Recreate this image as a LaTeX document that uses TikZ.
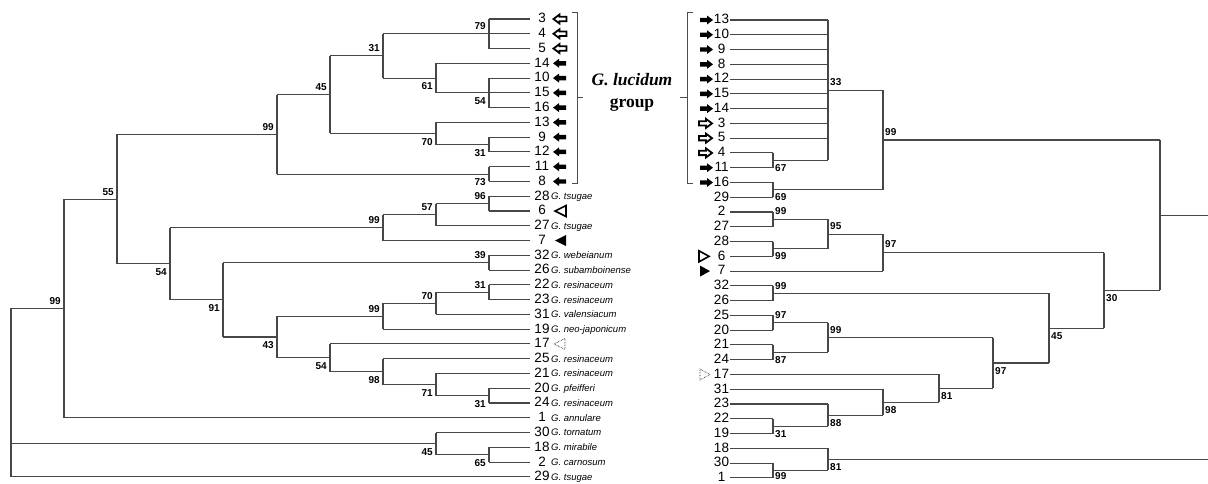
\documentclass[tikz,border=0pt]{standalone}
\usepackage{fontspec}
\setmainfont{Liberation Sans}
\newfontfamily\timesfont{Liberation Serif}
\tikzset{
  br/.style={draw=black!72, line width=1.1pt},
  brk/.style={draw=black!70, line width=0.8pt},
  tip/.style={font=\fontsize{13.5}{14}\selectfont, inner sep=0pt, yshift=0.8pt},
  sp/.style={font=\fontsize{9.5}{10}\selectfont\itshape, inner sep=0pt, anchor=base west},
  bl/.style={font=\fontsize{10}{10}\selectfont\bfseries, inner sep=0pt, anchor=east},
  bri/.style={font=\fontsize{10}{10}\selectfont\bfseries, inner sep=0pt, anchor=west},
  larr/.pic={\path[pic actions] (0pt,0pt) -- (6pt,4.5pt) -- (6pt,2.2pt) -- (13pt,2.2pt)
    -- (13pt,-2.2pt) -- (6pt,-2.2pt) -- (6pt,-4.5pt) -- cycle;},
  rarr/.pic={\path[pic actions] (0pt,0pt) -- (-6pt,4.5pt) -- (-6pt,2.2pt) -- (-13pt,2.2pt)
    -- (-13pt,-2.2pt) -- (-6pt,-2.2pt) -- (-6pt,-4.5pt) -- cycle;},
  ltri/.pic={\path[pic actions] (0pt,0pt) -- (11pt,5.5pt) -- (11pt,-5.5pt) -- cycle;},
  rtri/.pic={\path[pic actions] (0pt,0pt) -- (-10pt,5.5pt) -- (-10pt,-5.5pt) -- cycle;}
}
\begin{document}
\begin{tikzpicture}[x=1pt, y=-14.77pt]
  \useasboundingbox[fill=white] (0,-1.287) rectangle (1208,31.415);

  % left tree
  \foreach \t/\px [count=\i from 0] in {3/489,4/383,5/489,14/436,10/489,15/436,16/489,13/436,
      9/489,12/489,11/489,8/489,28/489,6/489,27/436,7/383,32/489,26/489,22/489,23/489,31/436,
      19/383,17/330,25/383,21/436,20/489,24/489,1/64,30/436,18/489,2/489,29/11}
  {
    \draw[br] (\px,\i) -- (530,\i);
    \node[tip] (l\t) at (542,\i) {\t};
  }
  \draw[br] (489,0) -- (489,2);
  \draw[br] (489,4) -- (489,6);
  \draw[br] (436,3) -- (436,5) (383,4) -- (436,4);
  \draw[br] (383,1) -- (383,4) (330,2.5) -- (383,2.5);
  \draw[br] (489,8) -- (489,9) (436,8.5) -- (489,8.5);
  \draw[br] (436,7) -- (436,8.5) (330,7.75) -- (436,7.75);
  \draw[br] (330,2.5) -- (330,7.75) (277,5.125) -- (330,5.125);
  \draw[br] (489,10) -- (489,11) (277,10.5) -- (489,10.5);
  \draw[br] (277,5.125) -- (277,10.5) (117,7.8125) -- (277,7.8125);
  \draw[br] (489,12) -- (489,13) (436,12.5) -- (489,12.5);
  \draw[br] (436,12.5) -- (436,14) (383,13.25) -- (436,13.25);
  \draw[br] (383,13.25) -- (383,15) (170,14.125) -- (383,14.125);
  \draw[br] (489,16) -- (489,17) (223,16.5) -- (489,16.5);
  \draw[br] (489,18) -- (489,19) (436,18.5) -- (489,18.5);
  \draw[br] (436,18.5) -- (436,20) (383,19.25) -- (436,19.25);
  \draw[br] (383,19.25) -- (383,21) (277,20.125) -- (383,20.125);
  \draw[br] (489,25) -- (489,26) (436,25.5) -- (489,25.5);
  \draw[br] (436,24) -- (436,25.5) (383,24.75) -- (436,24.75);
  \draw[br] (383,23) -- (383,24.75) (330,23.875) -- (383,23.875);
  \draw[br] (330,22) -- (330,23.875) (277,22.9375) -- (330,22.9375);
  \draw[br] (277,20.125) -- (277,22.9375) (223,21.531) -- (277,21.531);
  \draw[br] (223,16.5) -- (223,21.531) (170,19.016) -- (223,19.016);
  \draw[br] (170,14.125) -- (170,19.016) (117,16.570) -- (170,16.570);
  \draw[br] (117,7.8125) -- (117,16.570) (64,12.191) -- (117,12.191);
  \draw[br] (64,12.191) -- (64,27) (11,19.596) -- (64,19.596);
  \draw[br] (489,29) -- (489,30) (436,29.5) -- (489,29.5);
  \draw[br] (436,28) -- (436,29.5) (11,28.75) -- (436,28.75);
  \draw[br] (11,19.596) -- (11,31);

  \node[bl] (b79) at (486,0.5) {79};
  \node[bl] (b31a) at (380,2) {31};
  \node[bl] (b61) at (433,4.55) {61};
  \node[bl] (b54a) at (486,5.55) {54};
  \node[bl] (b45a) at (327,4.63) {45};
  \node[bl] (b70a) at (433,8.3) {70};
  \node[bl] (b31b) at (486,9.05) {31};
  \node[bl] (b99a) at (274,7.31) {99};
  \node[bl] (b73) at (486,11.05) {73};
  \node[bl] (b55) at (114,11.69) {55};
  \node[bl] (b96) at (486,12) {96};
  \node[bl] (b57) at (433,12.75) {57};
  \node[bl] (b99b) at (380,13.62) {99};
  \node[bl] (b39) at (486,16) {39};
  \node[bl] (b54c) at (167,17.12) {54};
  \node[bl] (b31c) at (486,18) {31};
  \node[bl] (b70b) at (433,18.75) {70};
  \node[bl] (b99d) at (61,19.1) {99};
  \node[bl] (b91) at (220,19.57) {91};
  \node[bl] (b99c) at (380,19.62) {99};
  \node[bl] (b43) at (274,22.08) {43};
  \node[bl] (b54b) at (327,23.49) {54};
  \node[bl] (b98) at (380,24.42) {98};
  \node[bl] (b71) at (433,25.3) {71};
  \node[bl] (b31d) at (486,26.05) {31};
  \node[bl] (b45b) at (433,29.3) {45};
  \node[bl] (b65) at (486,30.05) {65};

  \foreach \t/\r/\s in {28/12/tsugae,27/14/tsugae,32/16/webeianum,26/17/subamboinense,
      22/18/resinaceum,23/19/resinaceum,31/20/valensiacum,19/21/neo-japonicum,
      25/23/resinaceum,21/24/resinaceum,20/25/pfeifferi,24/26/resinaceum,1/27/annulare,
      30/28/tornatum,18/29/mirabile,2/30/carnosum,29/31/tsugae}
    \node[sp] (s\t) at (551,\r+0.23) {G. \s};

  \foreach \r in {0,1,2}
    \pic[draw=black, fill=white, line width=1.8pt] at (553.5,\r) {larr};
  \foreach \r in {3,...,11}
    \pic[fill=black] at (553,\r) {larr};
  \pic[draw=black, line width=1.6pt] at (555,13) {ltri};
  \pic[fill=black] at (555,15) {ltri};
  \pic[draw=black, line width=0.6pt, densely dotted] at (554,22) {ltri};

  % brackets and group name
  \draw[brk] (572,-0.47) -- (577,-0.47) -- (577,11.1) -- (572,11.1) (577,5.28) -- (583,5.28);
  \draw[brk] (693,-0.47) -- (687,-0.47) -- (687,11.1) -- (693,11.1) (687,5.28) -- (680,5.28);
  \node[font=\timesfont\fontsize{17.5}{18}\selectfont\bfseries\itshape, anchor=base, inner sep=0pt]
    (grp) at (632,4.47) {G. lucidum};
  \node[font=\timesfont\fontsize{17.5}{18}\selectfont\bfseries, anchor=base, inner sep=0pt]
    (grpb) at (632,5.96) {group};

  % right tree
  \begin{scope}[yshift=-1pt]
  \foreach \t/\px [count=\i from 0] in {13/828,10/828,9/828,8/828,12/828,15/828,14/828,3/828,
      5/828,4/773,11/773,16/773,29/773,2/773,27/773,28/773,6/773,7/883,32/773,26/773,25/773,
      20/773,21/773,24/773,17/939,31/883,23/828,22/773,19/773,18/828,30/773,1/773}
  {
    \draw[br] (730,\i) -- (\px,\i);
    \node[tip] (r\t) at (721.5,\i) {\t};
  }
  \draw[br] (773,9) -- (773,10) (773,9.5) -- (828,9.5);
  \draw[br] (828,0) -- (828,9.5) (828,4.75) -- (883,4.75);
  \draw[br] (773,11) -- (773,12) (773,11.5) -- (883,11.5);
  \draw[br] (883,4.75) -- (883,11.5) (883,8.125) -- (1160,8.125);
  \draw[br] (773,13) -- (773,14) (773,13.5) -- (828,13.5);
  \draw[br] (773,15) -- (773,16) (773,15.5) -- (828,15.5);
  \draw[br] (828,13.5) -- (828,15.5) (828,14.5) -- (883,14.5);
  \draw[br] (883,14.5) -- (883,17) (883,15.75) -- (1104,15.75);
  \draw[br] (773,18) -- (773,19) (773,18.5) -- (1049,18.5);
  \draw[br] (773,20) -- (773,21) (773,20.5) -- (828,20.5);
  \draw[br] (773,22) -- (773,23) (773,22.5) -- (828,22.5);
  \draw[br] (828,20.5) -- (828,22.5) (828,21.5) -- (993,21.5);
  \draw[br] (773,27) -- (773,28) (773,27.5) -- (828,27.5);
  \draw[br] (828,26) -- (828,27.5) (828,26.75) -- (883,26.75);
  \draw[br] (883,25) -- (883,26.75) (883,25.875) -- (939,25.875);
  \draw[br] (939,24) -- (939,25.875) (939,24.938) -- (993,24.938);
  \draw[br] (993,21.5) -- (993,24.938) (993,23.219) -- (1049,23.219);
  \draw[br] (1049,18.5) -- (1049,23.219) (1049,20.859) -- (1104,20.859);
  \draw[br] (1104,15.75) -- (1104,20.859) (1104,18.305) -- (1160,18.305);
  \draw[br] (1160,8.125) -- (1160,18.305) (1160,13.215) -- (1210,13.215);
  \draw[br] (773,30) -- (773,31) (773,30.5) -- (828,30.5);
  \draw[br] (828,29) -- (828,30.5) (828,29.75) -- (1210,29.75);

  \node[bri] (c33) at (830,4.2) {33};
  \node[bri] (c99a) at (885,7.6) {99};
  \node[bri] (c67) at (775,10.05) {67};
  \node[bri] (c69) at (775,12) {69};
  \node[bri] (c99b) at (775,12.95) {99};
  \node[bri] (c95) at (830,13.95) {95};
  \node[bri] (c97a) at (885,15.2) {97};
  \node[bri] (c99c) at (775,16) {99};
  \node[bri] (c99d) at (775,18) {99};
  \node[bri] (c30) at (1106,18.85) {30};
  \node[bri] (c97b) at (775,20) {97};
  \node[bri] (c99e) at (830,21) {99};
  \node[bri] (c45) at (1051,21.4) {45};
  \node[bri] (c87) at (775,23) {87};
  \node[bri] (c97c) at (995,23.75) {97};
  \node[bri] (c81a) at (941,25.47) {81};
  \node[bri] (c98) at (885,26.4) {98};
  \node[bri] (c88) at (830,27.3) {88};
  \node[bri] (c31) at (775,28) {31};
  \node[bri] (c81b) at (830,30.3) {81};
  \node[bri] (c99f) at (775,30.9) {99};

  \foreach \r in {0,...,6,10,11}
    \pic[fill=black] at (713,\r) {rarr};
  \foreach \r in {7,8,9}
    \pic[draw=black, fill=white, line width=1.8pt] at (712,\r) {rarr};
  \pic[draw=black, line width=1.6pt] at (709,16) {rtri};
  \pic[fill=black] at (710,17) {rtri};
  \pic[draw=black, line width=0.6pt, densely dotted] at (710,24) {rtri};
  \end{scope}
\end{tikzpicture}
\end{document}
